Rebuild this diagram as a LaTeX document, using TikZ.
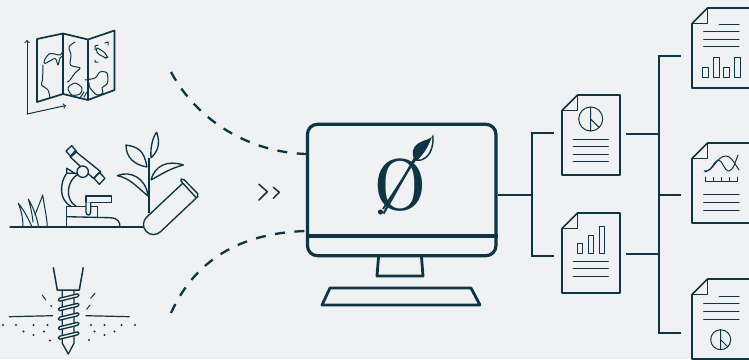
\documentclass[tikz,border=0pt]{standalone}
\definecolor{ink}{HTML}{0F3443}
\definecolor{paper}{HTML}{EFF1F3}
\tikzset{
  wire/.style={draw=ink,line width=2.3pt},
  trace/.style={draw=ink,line width=1.35pt,line join=round},
  fine/.style={draw=ink,line width=1pt,line join=round,line cap=round},
  sheet/.pic={
    \draw[ink,line width=1.7pt,line join=round] (0,15.5)--(15.5,0)--(58,0)--(58,80)--(0,80)--cycle;
    \draw[ink,line width=1.7pt,line join=round] (0,15.5)--(15.5,15.5)--(15.5,0);
  },
  pie/.pic={
    \draw[fine] (0,0) circle (1);
    \draw[fine] (0,-1)--(0,1) (0,0)--(0.7,0.7);
  }
}
\begin{document}
\begin{tikzpicture}[x=1pt,y=-1pt]
\fill[paper] (0,0) rectangle (749,359);
\clip (0,0) rectangle (749,359);
% map
\draw[trace,line width=1.7pt] (37,39)--(63,33.5)--(88,39.5)--(114.5,30.5)--(114.5,90)--(88,100)--(63,94)--(37,102)--cycle;
\draw[trace,line width=1.7pt] (63,33.5)--(63,94) (88,39.5)--(88,100);
\draw[fine,->,>=to] (27,114)--(27,40);
\draw[fine,->,>=to] (27,114)--(66,105.5);
\draw[fine] plot[smooth] coordinates {(75,42) (69,47) (71,55) (70.5,65) (80,68) (75,73) (70,80) (67.5,82)};
\draw[fine] plot[smooth] coordinates {(63,50) (60,55) (50,53.5) (44.5,60) (45,63.5) (55,58.5) (58,65) (60,58) (63,56)};
\draw[fine] plot[smooth] coordinates {(43,65) (42.5,80) (41.5,85) (48,90) (50,98)};
\draw[fine] plot[smooth cycle] coordinates {(68,88) (75,83) (82,88) (80,94) (72,95)};
\draw[fine] plot[smooth] coordinates {(85,80) (95,78) (100,72) (107,73) (107.5,83) (102,88) (103,93) (97,95) (90,88) (89,83)};
\draw[fine] plot[smooth cycle] coordinates {(97,48) (105,53) (107,58) (100,55) (97,52)};
\draw[fine] (95,50)--(95,46)--(98,45) (105,43)--(108,42)--(108,45) (95,60)--(95,62)--(98,62) (105,58)--(108,57);
\draw[fine] (80,98)--(84,92) (84,97)--(87,92);
% bench
\draw[fine,line width=1.2pt] (10,227)--(145,227);
\draw[fine] (23,227) .. controls (23,215) and (20,208) .. (18.3,203.3) .. controls (24,210) and (29,220) .. (32,227);
\draw[fine] (33,222) .. controls (32,212) and (30,205) .. (28.3,199) .. controls (33,207) and (37,217) .. (38.5,227);
\draw[fine] (35,215) .. controls (38,207) and (41,200) .. (42.7,195) .. controls (44,205) and (47,217) .. (47.3,227);
% microscope
\draw[trace] (75,151)--(100.7,171.7)--(93.3,178.3)--(70,156.7)--cycle;
\draw[trace] (66,151)--(71.7,145.7)--(76.7,151.7)--(71,156.7)--cycle;
\draw[trace] (94,178.3)--(99.3,172.3)--(105,178.3)--(99.3,184.3)--cycle;
\draw[trace,fill=paper] (82.7,171.7) circle (5.7);
\draw[trace] (76,174)--(66.7,168.3)--(66.7,173.3)--(77,173.3);
\draw[trace] (66.7,173.3) .. controls (60,182) and (58,200) .. (71.7,206.7);
\draw[trace] (78,174.3) .. controls (67,180) and (64,200) .. (76.7,206.7);
\draw[trace] (66.7,227)--(66.7,206.7)--(97.7,206.7)--(97.7,216.7);
\draw[trace] (66.7,216.7)--(110,217.7) .. controls (118,218) and (120,222) .. (120,227);
\draw[trace,fill=paper] (86,196)--(111.7,196)--(111.7,202.3)--(86,202.3)--cycle;
\draw[trace,fill=paper] (86,202.3)--(86,212) .. controls (86,216) and (90.7,216) .. (90.7,212)--(90.7,202.3);
% plant
\draw[trace] (149,158)--(149,213);
\draw[trace] (151,158) .. controls (150,145) and (154,135) .. (156.7,132.3) .. controls (161,145) and (157,152) .. (151,158);
\draw[trace] (147,167) .. controls (144,150) and (138,147) .. (126,145) .. controls (126,158) and (135,165) .. (147,167);
\draw[trace] (151,180) .. controls (155,165) and (168,160) .. (183.3,165) .. controls (172,168) and (165,172) .. (151,180);
\draw[trace] (148,196) .. controls (146,178) and (130,170) .. (117.3,175.7) .. controls (130,178) and (138,188) .. (148,196);
% tube
\draw[trace,fill=paper] (183,183)--(146.6,217.2) .. controls (142.6,221) and (142.4,227.4) .. (146.2,231.4) .. controls (150,235.4) and (156.4,235.6) .. (160.4,231.8)--(196.8,197.5);
\draw[trace,fill=paper,rounded corners=2pt] (180,180)--(182.7,178.3)--(199,195)--(196.7,198.3)--cycle;
% drill
\draw[trace,line width=1.5pt] (53.3,267.3)--(57.3,290)--(79.3,290)--(83.3,267.3);
\draw[trace] (62.3,290)--(62.3,343.3)--(68.3,354)--(74,343.3)--(74,290);
\foreach \y in {300,309.5,319,328.5,338}{
  \draw[trace,fill=paper,rounded corners=1.5pt] (58.3,\y-1.5)--(79,\y-6.5)--(79,\y-3.5)--(58.3,\y+1.5)--cycle;
}
\draw[fine,line width=1.2pt] (9.3,316.7)--(52.7,315.7);
\draw[fine,line width=1.2pt] (86,315.7)--(129.3,316.7);
\foreach \dotx/\doty in {3/325,16/325,33.5/325,47.5/325,23.5/331.5,33.5/335,44/331.5,50/340.5,91/325,104.5/325,121.5/325,135/325,94.5/331.5,104.5/335,114.5/331.5,89/340}{
  \fill[ink] (\dotx,\doty) circle (1.1);
}
\draw[fine] (42.3,295)--(45.7,300) (50.7,305.5)--(51.7,306.5) (95,293.3)--(90.7,298.3) (90,305)--(86.7,309.3);
% dashes
\coordinate (mapend) at (171,72);
\coordinate (drillend) at (171,313);
\node (screen) [draw=ink,line width=3.2pt,rounded corners=10pt,minimum width=188.5pt,minimum height=131.4pt,inner sep=0pt] at (401.7,190) {};
\coordinate (dashtop) at (306,154);
\coordinate (dashlow) at (306,231);
\draw[wire,dash pattern=on 10pt off 9.5pt] (mapend) .. controls (198,122) and (250,152) .. (dashtop -| screen.west);
\draw[wire,dash pattern=on 10pt off 9.5pt] (drillend) .. controls (195,260) and (240,233) .. (dashlow -| screen.west);
\draw[fine,line width=1.5pt] (259,184.3)--(267.3,191.7)--(259,200) (273.3,187.3)--(279.3,192.3)--(273.3,198.3);
% monitor
\draw[ink,line width=3.2pt] (screen.west |- 0,236)--(screen.east |- 0,236);
\draw[ink,line width=2.8pt,line join=round] (378.5,257)--(377,276)--(423,276)--(421.5,257);
\draw[ink,line width=2.8pt,line join=round] (330,288)--(471,288)--(480,305)--(322,305)--cycle;
\node (logo) [ink,inner sep=0pt,xscale=0.8,font=\bfseries\fontsize{74}{74}\selectfont] at (400,185.5) {Ø};
\draw[ink,line width=1.9pt] (383,209)--(415,160);
\fill[ink] (380.5,212) circle (2.6);
\fill[ink] (415,160.5) .. controls (411,153) and (412,148) .. (418.3,143.3) .. controls (424,139) and (431,141) .. (433.3,134) .. controls (435,146) and (431,156) .. (424,159.5) .. controls (420,161.5) and (417,161.5) .. (415,160.5)--cycle;
\fill[paper] (418,159.5) .. controls (423,155) and (428,148) .. (432,137) .. controls (433,146) and (429,155) .. (424,157.5) .. controls (421,159.5) and (420,159.5) .. (418,159.5)--cycle;
% hubs
\coordinate (hubl) at (532,195);
\coordinate (hubr) at (659,195);
\coordinate (pielead) at (554,133);
\coordinate (barlead) at (554,256);
\coordinate (pieout) at (626,134);
\coordinate (barout) at (626,254);
\coordinate (topin) at (681,56);
\coordinate (midin) at (681,195);
\coordinate (lowin) at (681,333);
\draw[wire] (screen.east |- hubl)--(hubl);
\draw[wire] (pielead)-|(hubl)|-(barlead);
\draw[wire] (pieout)--(pieout -| hubr);
\draw[wire] (barout)--(barout -| hubr);
\draw[wire] (topin)-|(hubr)|-(lowin);
\draw[wire] (hubr)--(midin);
% pie report
\begin{scope}[shift={(562,95)}]
\pic {sheet};
\pic[scale=12] at (28.7,24) {pie};
\foreach \y in {44,51.3,59,66.7}{\draw[fine] (11,\y)--(46.3,\y);}
\end{scope}
% bar report
\begin{scope}[shift={(562,213)}]
\pic {sheet};
\draw[fine] (15,30) rectangle (20.7,40) (26,22.3) rectangle (31.7,40) (37,13.3) rectangle (42.7,40);
\foreach \y in {48,55.6,63.3}{\draw[fine] (11,\y)--(46.3,\y);}
\end{scope}
% top report
\begin{scope}[shift={(692,8)}]
\pic {sheet};
\draw[fine] (27,16)--(47,16);
\foreach \y in {23.3,31,38.7}{\draw[fine] (11.7,\y)--(47,\y);}
\draw[fine] (10.3,59) rectangle (16,69.3) (21.3,49) rectangle (27.3,69.3) (31,59.3) rectangle (37,69.3) (42,49) rectangle (48,69.3);
\end{scope}
% curve report
\begin{scope}[shift={(692,143)}]
\pic {sheet};
\draw[fine] (12,28) .. controls (22,29) and (24,13) .. (34,13) .. controls (38,13) and (40,16) .. (47,27);
\draw[fine] (13,29) .. controls (20,28) and (22,18) .. (26,17) .. controls (30,16) and (32,28) .. (37,28) .. controls (41,28) and (44,17) .. (46,12);
\draw[fine] (13.5,34)--(13.5,38.5)--(45.5,38.5)--(45.5,34);
\foreach \x in {21.5,29.5,37.5}{\draw[fine] (\x,34.5)--(\x,38.5);}
\foreach \y in {51.7,59.3,67}{\draw[fine] (11.7,\y)--(47,\y);}
\end{scope}
% low report
\begin{scope}[shift={(692,279)}]
\pic {sheet};
\draw[fine] (27,17.3)--(47,17.3);
\foreach \y in {24.7,32.3,40}{\draw[fine] (11.7,\y)--(47,\y);}
\pic[scale=10] at (28.7,60.7) {pie};
\end{scope}
\end{tikzpicture}
\end{document}
